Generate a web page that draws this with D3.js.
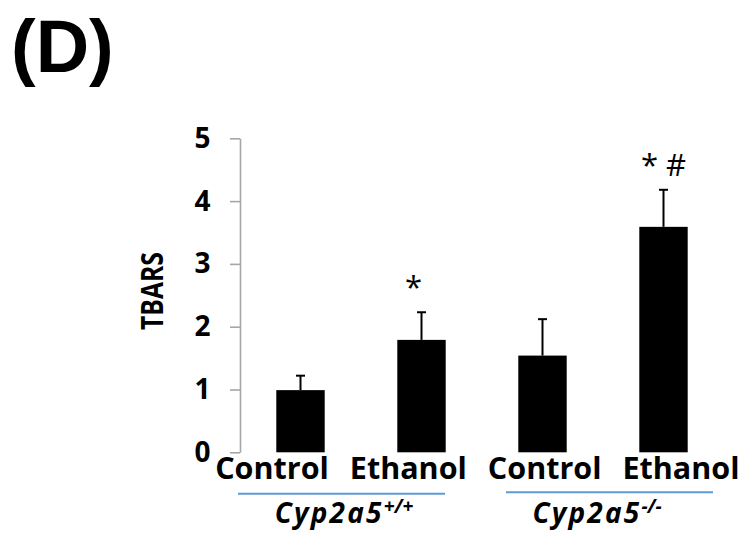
<!DOCTYPE html>
<html>
<head>
<meta charset="utf-8">
<script src="https://cdn.jsdelivr.net/npm/d3@7"></script>
<style>
  html, body { margin: 0; padding: 0; background: #fff; }
  svg { display: block; }
  text { font-family: "Open Sans", "DejaVu Sans", sans-serif; }
</style>
</head>
<body>
<svg id="chart" width="751" height="546"></svg>
<script>
// ---- data ----
const categories = ["Control", "Ethanol", "Control ", "Ethanol "];
const labels = ["Control", "Ethanol", "Control", "Ethanol"];
const means = [0.99, 1.79, 1.54, 3.59];
const errors = [0.23, 0.44, 0.58, 0.59];
const annotations = ["", "*\u00a0\u00a0", "", "* #"];
const groups = ["Cyp2a5", "Cyp2a5 "];
const groupSups = ["+/+", "-/-"];
const yTicks = [0, 1, 2, 3, 4, 5];
const panelLabel = "(D)";
const yTitle = "TBARS";

// ---- layout ----
const svg = d3.select("#chart");
const axisX = 240, y0 = 452.3, y5 = 138.3;

const y = d3.scaleLinear().domain([0, 5]).range([y0, y5]);
const x = d3.scaleBand().domain(categories).range([240, 724])
  .paddingInner(0.6).paddingOuter(0.3);
const xLab = d3.scalePoint().domain(categories).range([272, 681]);
const gLine = d3.scaleBand().domain(groups).range([238, 713]).paddingInner(0.2276).paddingOuter(0);
const gText = d3.scalePoint().domain(groups).range([344, 597]);

// panel label
svg.append("text").attr("x", 11).attr("y", 72)
  .style("font-family", "'Liberation Sans', Arial, sans-serif")
  .attr("font-size", 74).attr("font-weight", 700).attr("fill", "#000")
  .text(panelLabel);

// y axis
const yAxis = d3.axisLeft(y).tickValues(yTicks).tickSize(10).tickSizeOuter(0).tickPadding(19.5)
  .tickFormat(d3.format("d"));
const ga = svg.append("g").attr("transform", `translate(${axisX},0)`).call(yAxis);
ga.select(".domain").attr("stroke", "#a6a6a6").attr("stroke-width", 1.6);
ga.selectAll(".tick line").attr("stroke", "#a6a6a6").attr("stroke-width", 1.6);
ga.selectAll(".tick text").attr("font-size", 28).attr("font-weight", 700).attr("fill", "#000");

// y title
svg.append("text")
  .attr("transform", `translate(163,291) rotate(-90)`)
  .attr("text-anchor", "middle")
  .attr("font-size", 30).attr("font-weight", 700).attr("fill", "#000")
  .attr("textLength", 78).attr("lengthAdjust", "spacingAndGlyphs")
  .text(yTitle);

// bars
const data = categories.map((c, i) => ({ c, m: means[i], e: errors[i], a: annotations[i], l: labels[i] }));

svg.append("g").selectAll("rect").data(data).join("rect")
  .attr("x", d => x(d.c)).attr("width", x.bandwidth())
  .attr("y", d => y(d.m)).attr("height", d => y(0) - y(d.m))
  .attr("fill", "#000");

// error bars
const eg = svg.append("g").attr("stroke", "#000").attr("stroke-width", 2);
eg.selectAll("line.v").data(data).join("line").attr("class", "v")
  .attr("x1", d => x(d.c) + x.bandwidth() / 2).attr("x2", d => x(d.c) + x.bandwidth() / 2)
  .attr("y1", d => y(d.m)).attr("y2", d => y(d.m + d.e));
eg.selectAll("line.h").data(data).join("line").attr("class", "h")
  .attr("x1", d => x(d.c) + x.bandwidth() / 2 - 4.5).attr("x2", d => x(d.c) + x.bandwidth() / 2 + 4.5)
  .attr("y1", d => y(d.m + d.e)).attr("y2", d => y(d.m + d.e));

// annotations
svg.append("g").selectAll("text").data(data.filter(d => d.a)).join("text")
  .attr("x", d => x(d.c) + x.bandwidth() / 2)
  .attr("y", d => y(d.m + d.e) - 14)
  .attr("text-anchor", "middle").attr("font-size", 31).attr("fill", "#000")
  .style("white-space", "pre")
  .text(d => d.a);

// category labels
svg.append("g").selectAll("text").data(data).join("text")
  .attr("x", d => xLab(d.c)).attr("y", 479.3)
  .attr("text-anchor", "middle").attr("font-size", 30.5).attr("font-weight", 700).attr("fill", "#000")
  .text(d => d.l);

// group lines
svg.append("g").selectAll("line").data(groups).join("line")
  .attr("x1", d => gLine(d)).attr("x2", d => gLine(d) + gLine.bandwidth())
  .attr("y1", (d, i) => 493.8 - i * 1.5).attr("y2", (d, i) => 493.8 - i * 1.5)
  .attr("stroke", "#5b9bd5").attr("stroke-width", 2);

// group labels
const gl = svg.append("g").selectAll("text").data(groups).join("text")
  .attr("x", d => gText(d)).attr("y", 523.3)
  .attr("text-anchor", "middle").attr("font-style", "italic").attr("font-weight", 700).attr("fill", "#000");
gl.append("tspan").attr("font-size", 28).attr("letter-spacing", 2.2).text(d => d.trim());
gl.append("tspan").attr("font-size", 19).attr("dy", -10).text((d, i) => groupSups[i]);
</script>
</body>
</html>
